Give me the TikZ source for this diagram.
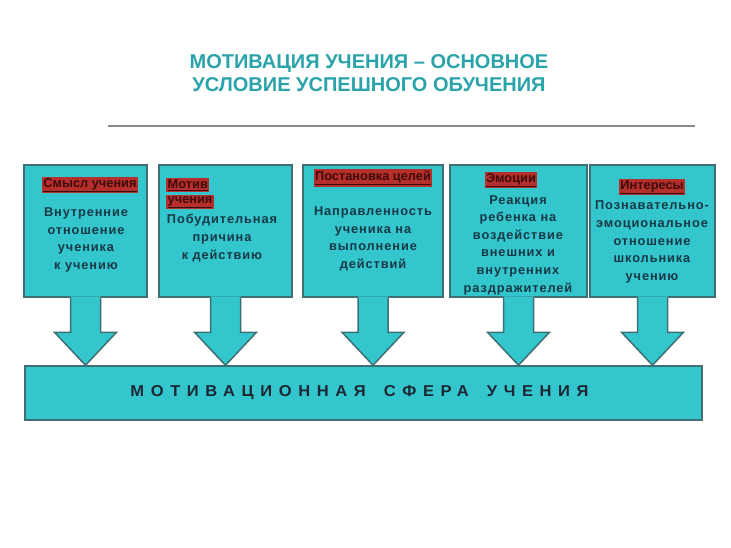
\documentclass[tikz,border=0pt]{standalone}
\usepackage{fontspec}
\setmainfont{Liberation Sans}
\usetikzlibrary{calc}
\definecolor{boxfill}{HTML}{34C6CD}
\definecolor{boxline}{HTML}{3E6F74}
\definecolor{titlecol}{HTML}{2BA3AA}
\definecolor{txtcol}{HTML}{173845}
\definecolor{hdrfill}{HTML}{B5302C}
\definecolor{hdrtxt}{HTML}{3E0A0A}
\definecolor{barcol}{HTML}{1C2733}
\definecolor{rulecol}{HTML}{8A8A8A}

\newcommand\bigarr[1]{%
  \path (#1.south) coordinate (#1-top) (#1.south |- bar.north) coordinate (#1-tip);
  \fill[boxfill] ($(#1-top)+(-15,-1.5)$) -- ($(#1-tip)+(-15,-33)$) -- ($(#1-tip)+(-31,-33)$) -- (#1-tip)
     -- ($(#1-tip)+(31,-33)$) -- ($(#1-tip)+(15,-33)$) -- ($(#1-top)+(15,-1.5)$) -- cycle;
  \draw[arrline] ($(#1-top)+(-15,0)$) -- ($(#1-tip)+(-15,-33)$) -- ($(#1-tip)+(-31,-33)$) -- (#1-tip)
     -- ($(#1-tip)+(31,-33)$) -- ($(#1-tip)+(15,-33)$) -- ($(#1-top)+(15,0)$);
}

\tikzset{
  box/.style={draw=boxline, fill=boxfill, line width=1.5pt, inner sep=0pt},
  arrline/.style={draw=boxline, line width=1.5pt, line join=miter},
  boxtxt/.style={text=txtcol, font=\bfseries\fontsize{12.8}{17.6}\selectfont\addfontfeature{LetterSpace=7}, align=center, inner sep=0pt},
  hdr/.style={fill=hdrfill, text=hdrtxt, font=\bfseries\fontsize{12.8}{14}\selectfont, inner xsep=1.5pt, inner ysep=1.5pt},
  titletxt/.style={text=titlecol, font=\bfseries\fontsize{20}{23.5}\selectfont, align=center, inner sep=0pt},
  bartxt/.style={text=barcol, font=\bfseries\fontsize{13}{15}\selectfont, inner sep=0pt}
}

\begin{document}
\begin{tikzpicture}[x=1pt,y=-1pt]
\useasboundingbox[fill=white] (0,0) rectangle (731,547);

\node[titletxt] (title) at (369,73) {МОТИВАЦИЯ УЧЕНИЯ – ОСНОВНОЕ\\УСЛОВИЕ УСПЕШНОГО ОБУЧЕНИЯ};
\coordinate (ruleL) at (108,126);
\coordinate (ruleR) at (695,126);
\draw[rulecol, line width=2.2pt] (ruleL) -- (ruleR);

\node[box, minimum width=123pt, minimum height=132pt] (b1) at (85.5,231) {};
\node[box, minimum width=133pt, minimum height=132pt] (b2) at (225.5,231) {};
\node[box, minimum width=140pt, minimum height=132pt] (b3) at (373,231) {};
\node[box, minimum width=137pt, minimum height=132pt] (b4) at (518.5,231) {};
\node[box, minimum width=125pt, minimum height=132pt] (b5) at (652.5,231) {};

\node[box, minimum width=677pt, minimum height=54pt] (bar) at (363.5,393) {};
\node[bartxt] (bartext) at ([xshift=-4pt]bar.center) {\resizebox{458pt}{11pt}{\addfontfeature{LetterSpace=40}МОТИВАЦИОННАЯ\hspace{1.1em}СФЕРА\hspace{1.1em}УЧЕНИЯ}};

\bigarr{b1}
\bigarr{b2}
\bigarr{b3}
\bigarr{b4}
\bigarr{b5}

\node[hdr] (h1) at (90,185) {\underline{Смысл учения}};
\node[hdr, anchor=west] (h2a) at (166,185) {\underline{Мотив}};
\node[hdr, anchor=west] (h2b) at (166,202) {\underline{учения}};
\node[hdr] (h3) at (373,178) {\underline{Постановка целей}};
\node[hdr] (h4) at (511,180) {\underline{Эмоции}};
\node[hdr] (h5) at (652,187) {\underline{Интересы}};

\node[boxtxt] (t1) at (86,240) {Внутренние\\отношение\\ученика\\к учению};
\node[boxtxt] (t2) at (222,238) {Побудительная\\причина\\к действию};
\node[boxtxt] (t3) at (373,239) {Направленность\\ученика на\\выполнение\\действий};
\node[boxtxt] (t4) at (518,245) {Реакция\\ребенка на\\воздействие\\внешних и\\внутренних\\раздражителей};
\node[boxtxt] (t5) at (652,242) {Познавательно-\\эмоциональное\\отношение\\школьника\\учению};
\end{tikzpicture}
\end{document}
